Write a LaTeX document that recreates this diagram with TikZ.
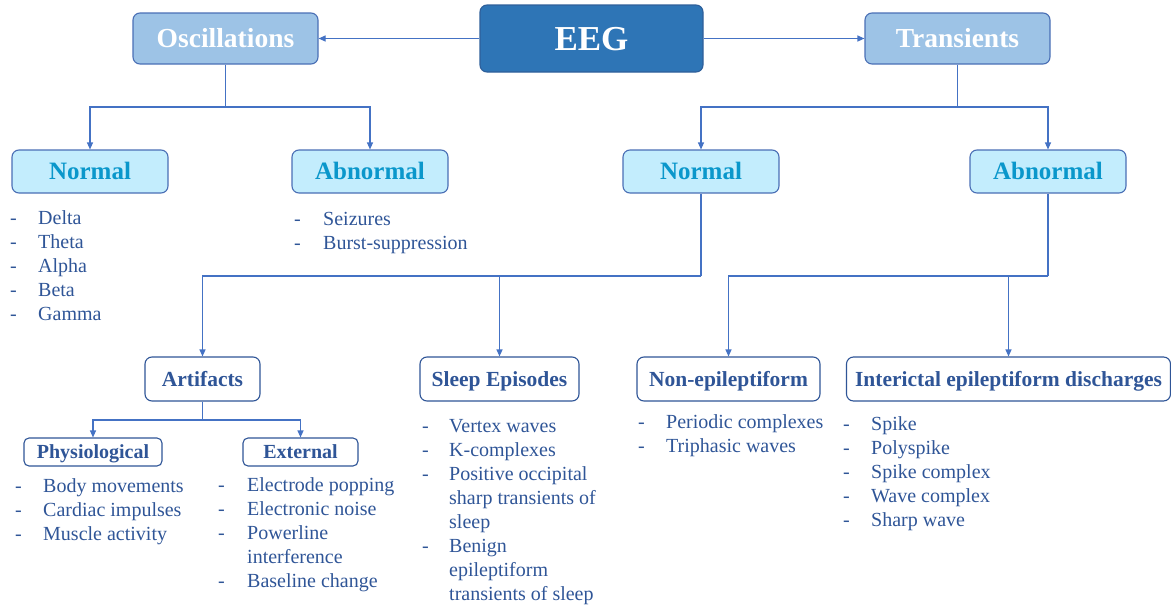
\documentclass[tikz,border=0pt]{standalone}
\usepackage{fontspec}
\setmainfont{Liberation Serif}
\usetikzlibrary{arrows.meta}

\definecolor{wire}{HTML}{4472C4}
\definecolor{navy}{HTML}{2F5597}
\definecolor{rootfill}{HTML}{2E75B6}
\definecolor{rootdraw}{HTML}{2E5F9A}
\definecolor{midfill}{HTML}{9DC3E6}
\definecolor{middraw}{HTML}{4A6FB5}
\definecolor{leaffill}{HTML}{C3EDFD}
\definecolor{leaftext}{HTML}{0A97CB}

\tikzset{
  box/.style={rounded corners=7pt, line width=1.1pt, inner sep=0pt, align=center,
    text depth=0pt},
  rootbox/.style={box, fill=rootfill, draw=rootdraw, text=white, text height=23.2pt,
    font=\bfseries\fontsize{35}{38}\selectfont},
  midbox/.style={box, fill=midfill, draw=middraw, text=white, text height=18.2pt,
    font=\bfseries\fontsize{27.5}{30}\selectfont},
  leafbox/.style={box, fill=leaffill, draw=middraw, text=leaftext, text height=16.5pt,
    font=\bfseries\fontsize{25}{28}\selectfont},
  subbox/.style={box, fill=white, draw=navy, text=navy, text height=14.2pt,
    font=\bfseries\fontsize{21.5}{24}\selectfont},
  smallbox/.style={box, rounded corners=5pt, fill=white, draw=navy, text=navy,
    text height=13.2pt, font=\bfseries\fontsize{20}{24}\selectfont},
  itemtext/.style={anchor=base west, inner sep=0pt, text=navy,
    font=\fontsize{20}{24}\selectfont},
  wirestyle/.style={draw=wire, line width=1.1pt},
  arr/.style={wirestyle, -{Triangle[length=7pt,width=6pt]}},
}

% #1 name prefix, #2 dash x, #3 text x, #4 first baseline, #5 flag/text pairs
\newcommand\dashlist[5]{%
  \foreach \d/\t [count=\i] in {#5} {%
    \node[itemtext] (#1-t\i) at (#3, {#4+24*(\i-1)}) {\t};
    \ifnum\d=1 \node[itemtext] (#1-d\i) at (#2, {#4+24*(\i-1)}) {-};\fi
  }}

\begin{document}
\begin{tikzpicture}[x=1pt, y=-1pt]
\useasboundingbox (0,0) rectangle (1171,608);

% top levels
\node[rootbox, minimum width=223pt, minimum height=67pt] (eeg) at (591.5,38.5) {EEG};
\node[midbox, minimum width=185pt, minimum height=51pt] (osc) at (225.5,38.5) {Oscillations};
\node[midbox, minimum width=185pt, minimum height=51pt] (tra) at (957.5,38.5) {Transients};

\node[leafbox, minimum width=156pt, minimum height=43pt] (onorm) at (90,171.5) {Normal};
\node[leafbox, minimum width=156pt, minimum height=43pt] (oabn) at (370,171.5) {Abnormal};
\node[leafbox, minimum width=156pt, minimum height=43pt] (tnorm) at (701,171.5) {Normal};
\node[leafbox, minimum width=156pt, minimum height=43pt] (tabn) at (1048,171.5) {Abnormal};

% third level
\node[subbox, minimum width=115pt, minimum height=44pt] (art) at (202.5,379) {Artifacts};
\node[subbox, minimum width=159pt, minimum height=44pt] (sleep) at (499.5,379) {Sleep Episodes};
\node[subbox, minimum width=183pt, minimum height=44pt] (nonep) at (728.5,379) {Non-epileptiform};
\node[subbox, minimum width=324pt, minimum height=44pt] (iced) at (1008.5,379) {Interictal epileptiform discharges};

\node[smallbox, minimum width=138pt, minimum height=28pt] (phys) at (93,452) {Physiological};
\node[smallbox, minimum width=115pt, minimum height=28pt] (ext) at (300.5,452) {External};

% connectors
\draw[arr] (eeg.west) -- (osc.east);
\draw[arr] (eeg.east) -- (tra.west);

\coordinate (oj) at (osc.south |- 0,107);
\draw[wirestyle] (osc.south) -- (oj);
\draw[arr] (oj) -| (onorm.north);
\draw[arr] (oj) -| (oabn.north);

\coordinate (tj) at (tra.south |- 0,107);
\draw[wirestyle] (tra.south) -- (tj);
\draw[arr] (tj) -| (tnorm.north);
\draw[arr] (tj) -| (tabn.north);

\coordinate (nj) at (tnorm.south |- 0,276);
\draw[wirestyle] (tnorm.south) -- (nj);
\draw[arr] (nj) -| (art.north);
\draw[arr] (nj) -| (sleep.north);

\coordinate (aj) at (tabn.south |- 0,276);
\draw[wirestyle] (tabn.south) -- (aj);
\draw[arr] (aj) -| (nonep.north);
\draw[arr] (aj) -| (iced.north);

\coordinate (fj) at (art.south |- 0,420);
\draw[wirestyle] (art.south) -- (fj);
\draw[arr] (fj) -| (phys.north);
\draw[arr] (fj) -| (ext.north);

% item lists
\dashlist{ol}{10}{38}{224}{1/Delta,1/Theta,1/Alpha,1/Beta,1/Gamma}
\dashlist{al}{294}{323}{225}{1/Seizures,1/Burst-suppression}
\dashlist{pl}{15}{43}{492}{1/Body movements,1/Cardiac impulses,1/Muscle activity}
\dashlist{el}{218}{247}{491}{1/Electrode popping,1/Electronic noise,1/Powerline,0/interference,1/Baseline change}
\dashlist{sl}{422}{449}{432}{1/Vertex waves,1/K-complexes,1/Positive occipital,0/sharp transients of,0/sleep,1/Benign,0/epileptiform,0/transients of sleep}
\dashlist{nl}{638}{666}{428}{1/Periodic complexes,1/Triphasic waves}
\dashlist{il}{843}{871}{430}{1/Spike,1/Polyspike,1/Spike complex,1/Wave complex,1/Sharp wave}
\end{tikzpicture}
\end{document}
